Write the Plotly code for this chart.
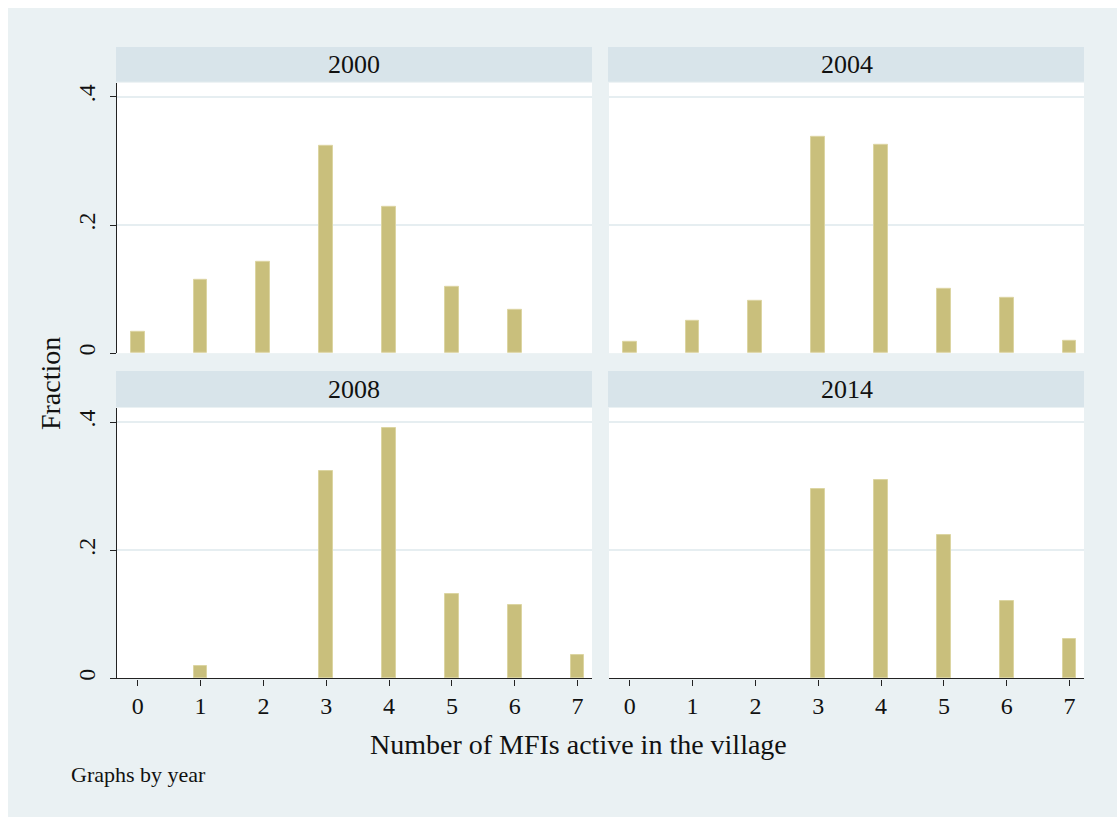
import plotly.graph_objects as go

# ---- data ----
years = ["2000", "2004", "2008", "2014"]
mfi_counts = [0, 1, 2, 3, 4, 5, 6, 7]
frac_2000 = [0.033, 0.115, 0.143, 0.324, 0.229, 0.103, 0.067, 0.0]
frac_2004 = [0.017, 0.051, 0.082, 0.338, 0.325, 0.100, 0.087, 0.019]
frac_2008 = [0.0, 0.020, 0.0, 0.324, 0.391, 0.131, 0.115, 0.036]
frac_2014 = [0.0, 0.0, 0.0, 0.296, 0.310, 0.223, 0.121, 0.061]
series = [frac_2000, frac_2004, frac_2008, frac_2014]
y_tick_vals = [0, 0.2, 0.4]
y_tick_text = ["0", ".2", ".4"]

W, H = 1117, 817
OFF = 8  # page offset of the figure (body margin)


def px(x):
    return (x - OFF) / W


def py(y):
    return 1 - (y - OFF) / H


BG = "#EAF1F3"
STRIP = "#D8E4EA"
GRID = "#E6EEF1"
BAR = "#C9BF7C"
BAR_LINE = "#DCD5A2"
FONT = "Liberation Serif"

panels = [
    (117, 592, 83, 354, 47, 82),
    (609, 1084, 83, 354, 47, 82),
    (117, 592, 409, 680, 372, 408),
    (609, 1084, 409, 680, 372, 408),
]

fig = go.Figure()
layout = dict(
    width=W, height=H,
    margin=dict(l=0, r=0, t=0, b=0),
    paper_bgcolor=BG,
    plot_bgcolor="white",
    showlegend=False,
    bargap=0,
    font=dict(family=FONT, color="#111111"),
)
shapes = []
annotations = []

for i, (yr, vals) in enumerate(zip(years, series)):
    x0, x1, y0, y1, s0, s1 = panels[i]
    xs = [c for c, v in zip(mfi_counts, vals) if v > 0]
    ys = [v for v in vals if v > 0]
    n = "" if i == 0 else str(i + 1)
    fig.add_trace(go.Bar(
        x=xs, y=ys, width=0.22,
        marker=dict(color=BAR, line=dict(color=BAR_LINE, width=1)),
        xaxis="x" + n, yaxis="y" + n,
        hoverinfo="x+y",
    ))
    left = i in (0, 2)
    bottom = i in (2, 3)
    layout["xaxis" + n] = dict(
        domain=[px(x0), px(x1)], anchor="y" + n, range=[-0.33, 7.23],
        showgrid=False, zeroline=False,
        showline=bottom, linecolor="#222222", linewidth=1.3,
        ticks="outside" if bottom else "", ticklen=6, tickcolor="#222222", tickwidth=1.3,
        showticklabels=bottom, tickvals=mfi_counts,
        tickfont=dict(family=FONT, size=24, color="#111111"),
    )
    layout["yaxis" + n] = dict(
        domain=[py(y1), py(y0)], anchor="x" + n, range=[0, 0.422],
        showgrid=True, gridcolor=GRID, gridwidth=1.5, zeroline=False,
        showline=left, linecolor="#222222", linewidth=1.3,
        ticks="outside" if left else "", ticklen=6, tickcolor="#222222", tickwidth=1.3,
        showticklabels=left, tickvals=y_tick_vals, ticktext=y_tick_text,
        tickangle=-90, ticklabelstandoff=5,
        tickfont=dict(family=FONT, size=24, color="#111111"),
    )
    shapes.append(dict(type="rect", xref="paper", yref="paper",
                       x0=px(x0 - 1), x1=px(x1), y0=py(s1), y1=py(s0),
                       fillcolor=STRIP, line_width=0, layer="below"))
    annotations.append(dict(xref="paper", yref="paper",
                            x=px((x0 + x1) / 2), y=py((s0 + s1) / 2),
                            text=yr, showarrow=False,
                            xanchor="center", yanchor="middle",
                            font=dict(family=FONT, size=26, color="#111111")))

annotations.append(dict(xref="paper", yref="paper", x=px(578), y=py(746),
                        text="Number of MFIs active in the village", showarrow=False,
                        xanchor="center", yanchor="middle",
                        font=dict(family=FONT, size=28, color="#111111")))
annotations.append(dict(xref="paper", yref="paper", x=px(50), y=py(385),
                        text="Fraction", showarrow=False, textangle=-90,
                        xanchor="center", yanchor="middle",
                        font=dict(family=FONT, size=28, color="#111111")))
annotations.append(dict(xref="paper", yref="paper", x=px(69), y=py(776),
                        text="Graphs by year", showarrow=False,
                        xanchor="left", yanchor="middle",
                        font=dict(family=FONT, size=22, color="#111111")))

layout["shapes"] = shapes
layout["annotations"] = annotations
fig.update_layout(**layout)
fig.write_html(
    "out.html",
    post_script="document.body.style.margin='8px 0 0 8px';"
                "document.documentElement.style.overflow='hidden';",
)
